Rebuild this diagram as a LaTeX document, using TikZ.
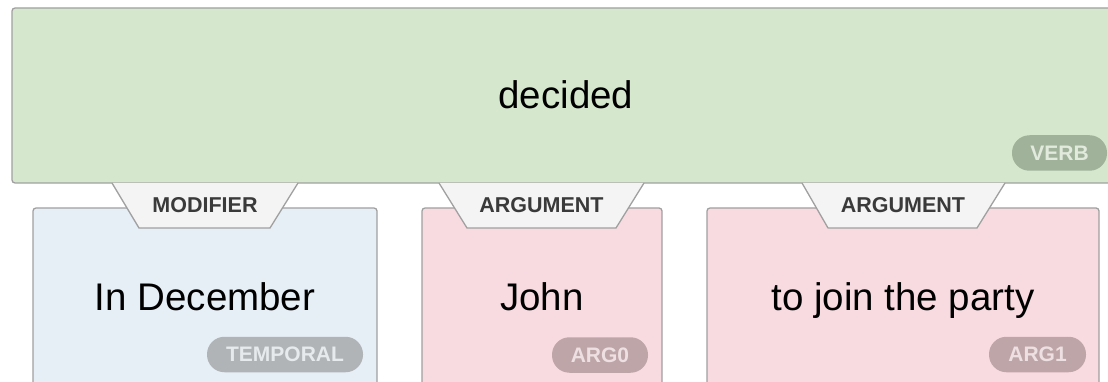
\documentclass[tikz,border=0pt]{standalone}
\usepackage{fontspec}
\setmainfont{Liberation Sans}
\definecolor{verbfill}{RGB}{213,232,205}
\definecolor{modfill}{RGB}{230,238,246}
\definecolor{argfill}{RGB}{248,219,225}
\definecolor{boxline}{RGB}{160,160,160}
\definecolor{tabfill}{RGB}{244,244,244}
\definecolor{tabtext}{RGB}{58,58,58}
\definecolor{pillverb}{RGB}{160,178,154}
\definecolor{pillverbtxt}{RGB}{226,234,222}
\definecolor{pilltemp}{RGB}{176,180,182}
\definecolor{pilltemptxt}{RGB}{230,234,236}
\definecolor{pillarg}{RGB}{190,165,168}
\definecolor{pillargtxt}{RGB}{238,224,226}
\tikzset{
  bigbox/.style={draw=boxline, line width=1.3pt, rounded corners=3pt, inner sep=0pt,
    font=\fontsize{38.5}{42}\selectfont, text=black, text height=26.5pt, text depth=0pt},
  tabshape/.style={fill=tabfill, draw=boxline, line width=1.3pt},
  tablabel/.style={font=\fontsize{21.5}{24}\selectfont\bfseries, text=tabtext, inner sep=0pt},
  pill/.style={rounded corners=17.5pt, inner sep=0pt, minimum height=35.5pt,
    font=\fontsize{21}{23}\selectfont\bfseries}
}
\begin{document}
\begin{tikzpicture}[x=1pt,y=-1pt]
\useasboundingbox (0,0) rectangle (1108,382);
\clip (0,0) rectangle (1108,382);
% boxes
\node[bigbox, fill=verbfill, minimum width=1108pt, minimum height=175pt] (verb) at (566,95.5) {decided};
\node[bigbox, fill=modfill, minimum width=344pt, minimum height=178pt] (mod) at (205,297) {In December};
\node[bigbox, fill=argfill, minimum width=240pt, minimum height=178pt] (john) at (542,297) {John};
\node[bigbox, fill=argfill, minimum width=392pt, minimum height=178pt] (party) at (903,297) {to join the party};
% tabs
\draw[tabshape] (112,183) -- (139,228) -- (270,228) -- (298,183);
\draw[tabshape] (439,183) -- (467,228) -- (616,228) -- (644,183);
\draw[tabshape] (802,183) -- (828,228) -- (977,228) -- (1005,183);
\node[tablabel] (tmod) at (205,205.5) {MODIFIER};
\node[tablabel] (tjohn) at (541.5,205.5) {ARGUMENT};
\node[tablabel] (tparty) at (903,205.5) {ARGUMENT};
% pills
\node[pill, fill=pillverb, text=pillverbtxt, minimum width=95pt] (pverb) at (1059.5,153) {VERB};
\node[pill, fill=pilltemp, text=pilltemptxt, minimum width=156pt] (ptemp) at (285,354.5) {TEMPORAL};
\node[pill, fill=pillarg, text=pillargtxt, minimum width=96pt] (parg0) at (600,355) {ARG0};
\node[pill, fill=pillarg, text=pillargtxt, minimum width=97pt] (parg1) at (1037.5,354.5) {ARG1};
\end{tikzpicture}
\end{document}
